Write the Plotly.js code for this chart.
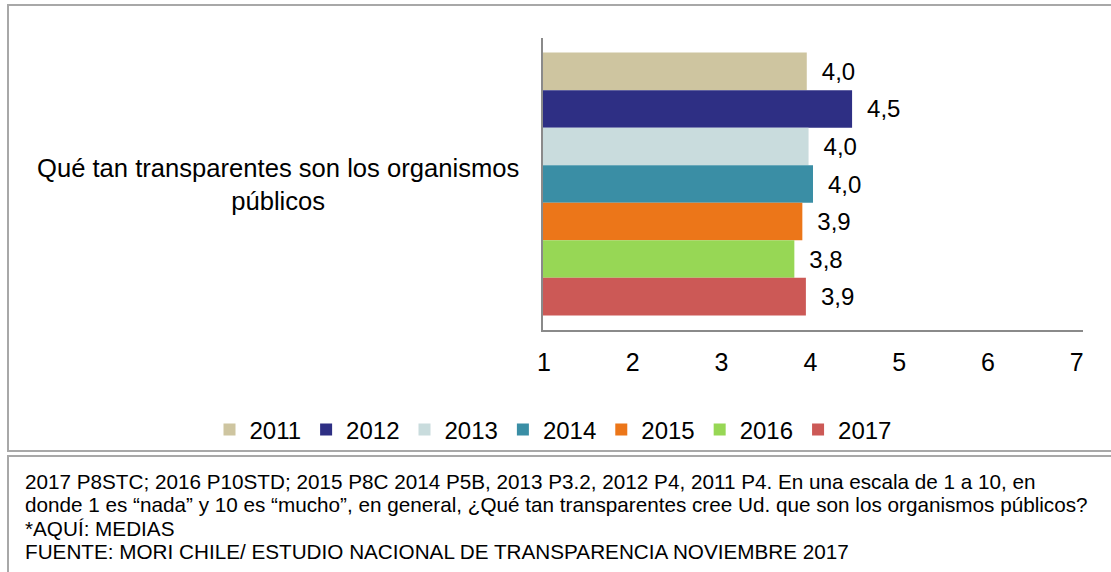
<!DOCTYPE html>
<html>
<head>
<meta charset="utf-8">
<script src="https://cdn.plot.ly/plotly-3.0.1.min.js"></script>
<style>html,body{margin:0;padding:0;background:#fff;}#chart{width:1111px;height:572px;}</style>
</head>
<body>
<div id="chart"></div>
<script>
const years = ['2011','2012','2013','2014','2015','2016','2017'];
const values = [3.96, 4.47, 3.98, 4.03, 3.91, 3.82, 3.95];
const valueLabels = ['4,0','4,5','4,0','4,0','3,9','3,8','3,9'];
const category = 'Qué tan transparentes son los organismos públicos';
const colors = ['#CEC5A0','#2E2F84','#C9DCDD','#3A8EA5','#EC7619','#97D755','#CC5956'];
const footerLines = [
  '2017 P8STC; 2016 P10STD; 2015 P8C 2014 P5B, 2013 P3.2, 2012 P4, 2011 P4. En una escala de 1 a 10, en',
  'donde 1 es “nada” y 10 es “mucho”, en general, ¿Qué tan transparentes cree Ud. que son los organismos públicos?',
  '*AQUÍ: MEDIAS',
  'FUENTE: MORI CHILE/ ESTUDIO NACIONAL DE TRANSPARENCIA NOVIEMBRE 2017'
];

const FONT = 'Liberation Sans, Arial, sans-serif';
const traces = years.map((yr, i) => ({
  type: 'bar',
  orientation: 'h',
  name: yr,
  x: [values[i]],
  y: [category],
  text: ['\u2002' + valueLabels[i]],
  textposition: 'outside',
  cliponaxis: false,
  textfont: {family: FONT, size: 24, color: '#000'},
  marker: {color: colors[i]},
  hoverinfo: 'x+name'
}));

// pixel -> paper helpers (paper spans full width; plot y 38..330)
const px = p => p / 1111;
const py = p => (330 - p) / 292;

const footerAnns = footerLines.map((t, i) => ({
  xref: 'paper', yref: 'paper', x: px(23), y: py(481 + i * 23.5), xanchor: 'left', yanchor: 'middle',
  text: t, showarrow: false, align: 'left',
  font: {family: FONT, size: 20.7, color: '#000'}
}));

const layout = {
  width: 1111, height: 572,
  margin: {l: 0, r: 0, t: 38, b: 242},
  paper_bgcolor: '#fff', plot_bgcolor: '#fff',
  font: {family: FONT, color: '#000'},
  barmode: 'group',
  bargap: 0.1,
  bargroupgap: 0,
  showlegend: true,
  legend: {
    orientation: 'h', x: px(553), xanchor: 'center',
    y: py(430), yanchor: 'middle',
    bgcolor: 'rgba(0,0,0,0)',
    font: {family: FONT, size: 24, color: '#000'}, traceorder: 'normal'
  },
  xaxis: {
    domain: [543 / 1111, 1083 / 1111],
    range: [0.99, 7.07], tickvals: [1,2,3,4,5,6,7], ticktext: ['1','2','3','4','5','6','7'],
    showgrid: false, zeroline: false, showline: true, linecolor: '#8a8a8a', linewidth: 2,
    ticks: '', ticklabelstandoff: 9, tickfont: {family: FONT, size: 25, color: '#000'}
  },
  yaxis: {
    autorange: 'reversed', showticklabels: false, showgrid: false, zeroline: false,
    showline: true, linecolor: '#8a8a8a', linewidth: 2, ticks: ''
  },
  shapes: [
    {type: 'rect', xref: 'paper', yref: 'paper', x0: px(8), x1: px(1116), y0: py(451), y1: py(5),
     line: {color: '#a8a8a8', width: 2}, fillcolor: 'rgba(0,0,0,0)'},
    {type: 'rect', xref: 'paper', yref: 'paper', x0: px(8), x1: px(1116), y0: py(585), y1: py(456),
     line: {color: '#a8a8a8', width: 2}, fillcolor: 'rgba(0,0,0,0)'}
  ],
  annotations: [
    {xref: 'paper', yref: 'paper', x: px(278), y: py(184), xanchor: 'center', yanchor: 'middle',
     text: 'Qué tan transparentes son los organismos<br>públicos', showarrow: false, align: 'center',
     font: {family: FONT, size: 25.6, color: '#000'}}
  ].concat(footerAnns)
};

Plotly.newPlot('chart', traces, layout, {displayModeBar: false, staticPlot: true});
</script>
</body>
</html>
